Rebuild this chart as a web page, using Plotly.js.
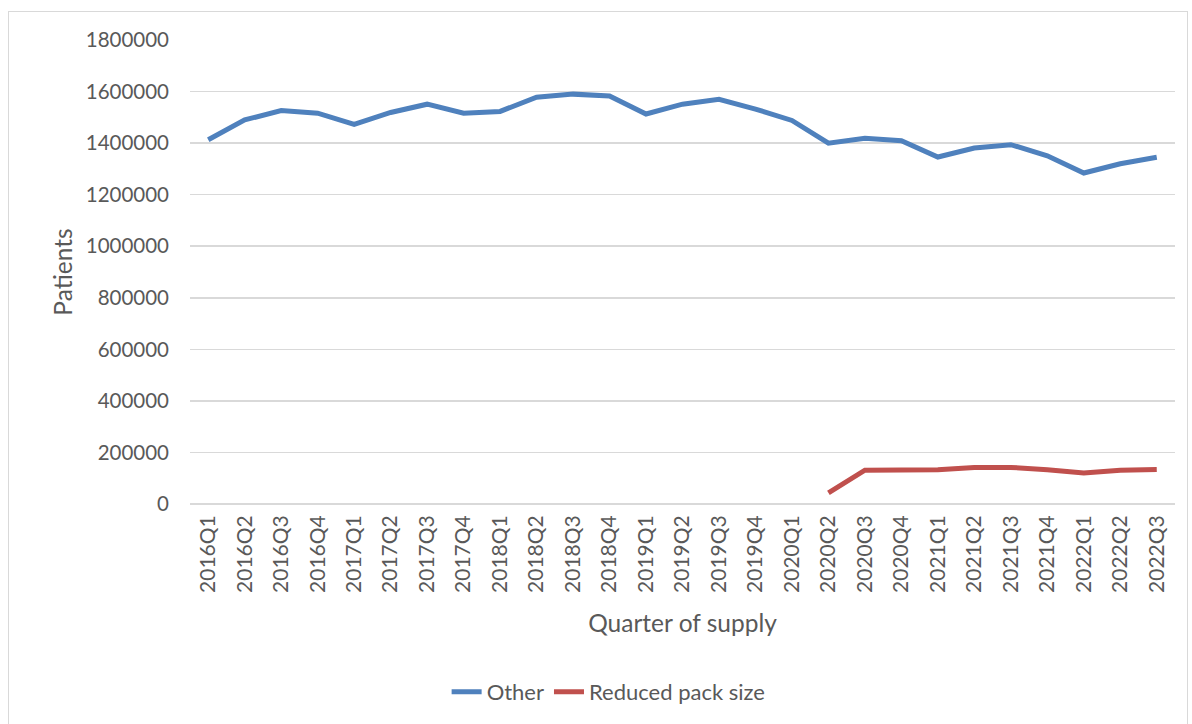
<!DOCTYPE html>
<html>
<head>
<meta charset="utf-8">
<script src="https://cdn.plot.ly/plotly-3.0.1.min.js"></script>
<style>
  html, body { margin: 0; padding: 0; background: #fff; }
  #frame { position: absolute; left: 8px; top: 11px; width: 1180px; height: 720px; border: 1px solid #d9d9d9; box-sizing: border-box; }
  #chart { position: absolute; left: 0; top: 0; width: 1192px; height: 724px; }
</style>
</head>
<body>
<div id="frame"></div>
<div id="chart"></div>
<script>
const quarters = ["2016Q1","2016Q2","2016Q3","2016Q4","2017Q1","2017Q2","2017Q3","2017Q4",
  "2018Q1","2018Q2","2018Q3","2018Q4","2019Q1","2019Q2","2019Q3","2019Q4",
  "2020Q1","2020Q2","2020Q3","2020Q4","2021Q1","2021Q2","2021Q3","2021Q4",
  "2022Q1","2022Q2","2022Q3"];
const otherPatients = [1413000,1490000,1526000,1516000,1473000,1519000,1551000,1516000,
  1523000,1578000,1590000,1583000,1513000,1551000,1570000,1532000,
  1488000,1400000,1419000,1409000,1346000,1381000,1394000,1351000,
  1284000,1320000,1345000];
const reducedPackPatients = [null,null,null,null,null,null,null,null,
  null,null,null,null,null,null,null,null,
  null,43000,131000,132000,133000,142000,142000,133000,
  120000,131000,134000];
const yTicks = [0,200000,400000,600000,800000,1000000,1200000,1400000,1600000,1800000];

const fontFamily = "Lato, 'Open Sans', 'DejaVu Sans', sans-serif";
const traces = [
  { x: quarters, y: otherPatients, name: "Other", type: "scatter", mode: "lines",
    line: { color: "#4F81BD", width: 5 } },
  { x: quarters, y: reducedPackPatients, name: "Reduced pack size", type: "scatter", mode: "lines",
    line: { color: "#C0504D", width: 5 }, connectgaps: false }
];
const layout = {
  width: 1192, height: 724,
  margin: { l: 190, r: 16.5, t: 40, b: 219 },
  paper_bgcolor: "rgba(0,0,0,0)", plot_bgcolor: "rgba(0,0,0,0)",
  font: { family: fontFamily, color: "#595959", size: 20 },
  xaxis: {
    type: "category", range: [-0.5, 26.5], tickangle: -90,
    showgrid: false, zeroline: false, showline: false, ticks: "",
    tickfont: { size: 21, color: "#595959" },
    ticklabelstandoff: 6,
    automargin: false,
    title: { text: "Quarter of supply", font: { size: 24.5, color: "#595959" }, standoff: 22 }
  },
  yaxis: {
    range: [0, 1800000], tickvals: yTicks, ticktext: yTicks.map(String),
    showgrid: true, gridcolor: "#d9d9d9", gridwidth: 1.5,
    zeroline: true, zerolinecolor: "#d9d9d9", zerolinewidth: 1.5,
    showline: false, ticks: "",
    tickfont: { size: 20.5, color: "#595959" },
    ticklabelstandoff: 20,
    automargin: false,
    title: { text: "Patients", font: { size: 24.5, color: "#595959" }, standoff: 6 }
  },
  showlegend: true,
  legend: { orientation: "h", x: 0.425, xanchor: "center", y: -0.402, yanchor: "middle",
    font: { size: 22, color: "#595959" }, bgcolor: "rgba(0,0,0,0)" }
};
Plotly.newPlot("chart", traces, layout, { displayModeBar: false, staticPlot: true });
</script>
</body>
</html>
